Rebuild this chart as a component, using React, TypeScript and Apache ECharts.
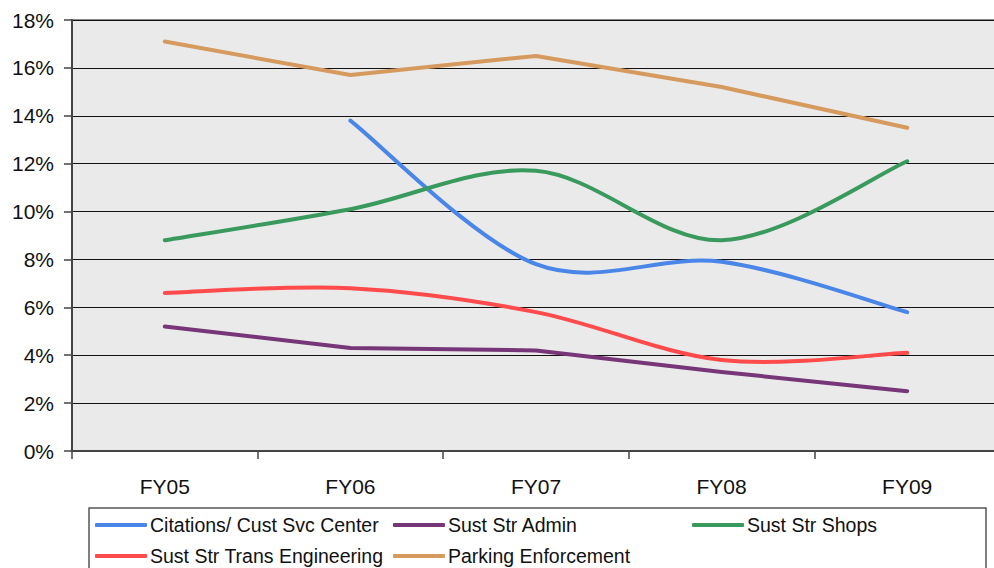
import React, { useEffect, useRef } from "react";
import * as echarts from "echarts";

const categories = ["FY05", "FY06", "FY07", "FY08", "FY09"];
const citations = [null, 13.8, 7.8, 7.9, 5.8];
const sustStrAdmin = [5.2, 4.3, 4.2, 3.3, 2.5];
const sustStrShops = [8.8, 10.1, 11.7, 8.8, 12.1];
const sustStrTransEng = [6.6, 6.8, 5.8, 3.8, 4.1];
const parkingEnforcement = [17.1, 15.7, 16.5, 15.2, 13.5];
const yTicks = [0, 2, 4, 6, 8, 10, 12, 14, 16, 18];

const FONT = "'Liberation Sans', Arial, sans-serif";

export default function App() {
  const ref = useRef<HTMLDivElement>(null);
  useEffect(() => {
    const chart = echarts.init(ref.current!, null, { renderer: "svg" });

    // Excel-like smoothed line (Catmull-Rom through the points), drawn with the chart's own coordinates
    const smoothSeries = (name: string, values: (number | null)[], color: string) => ({
      name,
      type: "custom",
      data: values.map((v, i) => [i, v]),
      itemStyle: { color },
      clip: false,
      renderItem: (params: any, api: any) => {
        if (params.dataIndex !== 0) return null;
        const pts: number[][] = [];
        values.forEach((v, i) => {
          if (v !== null && v !== undefined) pts.push(api.coord([i, v]));
        });
        if (pts.length < 2) return null;
        let d = `M${pts[0][0]},${pts[0][1]}`;
        for (let i = 0; i < pts.length - 1; i++) {
          const p0 = pts[i - 1] || pts[i];
          const p1 = pts[i];
          const p2 = pts[i + 1];
          const p3 = pts[i + 2] || pts[i + 1];
          const c1x = p1[0] + (p2[0] - p0[0]) / 6;
          const c1y = p1[1] + (p2[1] - p0[1]) / 6;
          const c2x = p2[0] - (p3[0] - p1[0]) / 6;
          const c2y = p2[1] - (p3[1] - p1[1]) / 6;
          d += ` C${c1x},${c1y} ${c2x},${c2y} ${p2[0]},${p2[1]}`;
        }
        return {
          type: "path",
          shape: { pathData: d },
          style: { fill: "none", stroke: color, lineWidth: 4, lineCap: "round", lineJoin: "round" },
        };
      },
    });
    const straightSeries = (name: string, data: number[], color: string) => ({
      name,
      type: "line",
      data,
      smooth: false,
      showSymbol: false,
      symbol: "none",
      lineStyle: { color, width: 4, cap: "round", join: "round" },
      itemStyle: { color },
    });
    const legendBase = {
      orient: "vertical" as const,
      itemWidth: 52,
      itemHeight: 4,
      itemGap: 11,
      icon: "roundRect",
      textStyle: { fontFamily: FONT, fontSize: 19.5, color: "#111", padding: [0, 0, 0, -2], lineHeight: 20 },
      padding: 0,
    };
    chart.setOption({
      animation: false,
      grid: {
        left: 72,
        top: 20,
        width: 928,
        height: 431,
        outerBoundsMode: "none",
        show: true,
        backgroundColor: "#EAEAEA",
        borderColor: "#8a8a8a",
        borderWidth: 2,
      },
      xAxis: {
        type: "category",
        data: categories,
        boundaryGap: true,
        axisLine: { lineStyle: { color: "#444", width: 2 } },
        axisTick: { show: true, length: 8, lineStyle: { color: "#444", width: 1.5 } },
        axisLabel: { fontFamily: FONT, fontSize: 21, color: "#111", margin: 25 },
      },
      yAxis: {
        type: "value",
        min: 0,
        max: 18,
        interval: 2,
        axisLine: { show: true, lineStyle: { color: "#444", width: 2 } },
        axisTick: { show: true, length: 8, lineStyle: { color: "#444", width: 1.5 } },
        axisLabel: {
          fontFamily: FONT,
          fontSize: 21,
          color: "#111",
          margin: 18,
          formatter: (v: number) => (yTicks.includes(v) ? v + "%" : ""),
        },
        splitLine: { show: true, lineStyle: { color: "#111", width: 1.2 } },
      },
      legend: [
        { ...legendBase, left: 95, top: 515, data: ["Citations/ Cust Svc Center", "Sust Str Trans Engineering"] },
        { ...legendBase, left: 393, top: 515, data: ["Sust Str Admin", "Parking Enforcement"] },
        { ...legendBase, left: 692, top: 515, data: ["Sust Str Shops"] },
      ],
      graphic: [
        {
          type: "rect",
          shape: { x: 89, y: 508, width: 897, height: 80 },
          style: { fill: "none", stroke: "#555", lineWidth: 1.5 },
          z: -1,
        },
      ],
      series: [
        smoothSeries("Citations/ Cust Svc Center", citations, "#4A86E8"),
        straightSeries("Sust Str Admin", sustStrAdmin, "#773677"),
        smoothSeries("Sust Str Shops", sustStrShops, "#3A9A5E"),
        smoothSeries("Sust Str Trans Engineering", sustStrTransEng, "#FF4B4B"),
        straightSeries("Parking Enforcement", parkingEnforcement, "#D6995E"),
      ],
    });
    return () => chart.dispose();
  }, []);
  return <div ref={ref} style={{ width: 994, height: 568, position: "absolute", left: 0, top: 0 }} />;
}
